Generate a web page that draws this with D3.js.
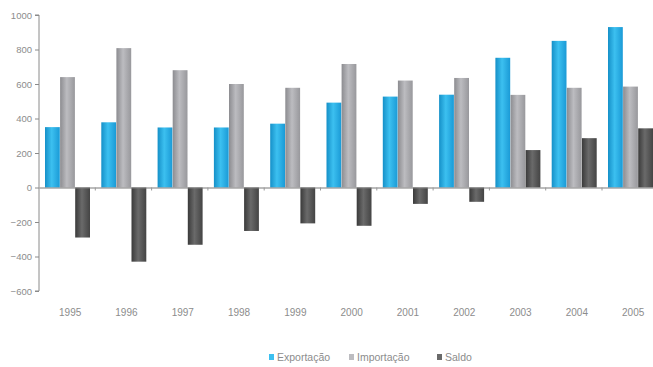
<!DOCTYPE html>
<html>
<head>
<meta charset="utf-8">
<script src="https://cdn.jsdelivr.net/npm/d3@7"></script>
<style>
  html, body { margin: 0; padding: 0; background: #fff; }
  svg { display: block; }
</style>
</head>
<body>
<svg id="chart" width="653" height="367"></svg>
<script>
// Trade balance by year: exports, imports and balance
const years = ["1995","1996","1997","1998","1999","2000","2001","2002","2003","2004","2005"];
const exportacao = [350, 378, 348, 348, 370, 492, 527, 538, 752, 850, 930];
const importacao = [640, 808, 680, 600, 578, 716, 620, 635, 537, 578, 585];
const saldo      = [-290, -430, -332, -252, -208, -222, -95, -83, 217, 286, 343];
const seriesNames = ["Exportação", "Importação", "Saldo"];
const yTicks = [-600, -400, -200, 0, 200, 400, 600, 800, 1000];

const series = [exportacao, importacao, saldo];
const colors = [
  ["#1590c8", "#3cc0f0", "#1a9ad6"],
  ["#8c8c90", "#bcbcc0", "#98989c"],
  ["#3a3a3a", "#6a6a6a", "#444444"]
];
const font = "Liberation Sans, Arial, sans-serif";

const svg = d3.select("#chart");
const left = 39;
const bandW = 56.3;
const x0 = d3.scaleBand().domain(years).range([left, left + bandW * years.length]);
const x1 = d3.scaleBand().domain(seriesNames).range([6, 51]).paddingInner(0.02);
const y = d3.scaleLinear().domain([-600, 1000]).range([291, 15]);

// Horizontal gradients give the bars a rounded look
const defs = svg.append("defs");
colors.forEach((c, i) => {
  const g = defs.append("linearGradient").attr("id", "grad" + i)
    .attr("x1", "0%").attr("x2", "100%").attr("y1", "0%").attr("y2", "0%");
  g.append("stop").attr("offset", "0%").attr("stop-color", c[0]);
  g.append("stop").attr("offset", "45%").attr("stop-color", c[1]);
  g.append("stop").attr("offset", "100%").attr("stop-color", c[2]);
});

// Bars
series.forEach((vals, si) => {
  svg.append("g").selectAll("rect").data(vals).join("rect")
    .attr("x", (d, i) => x0(years[i]) + x1(seriesNames[si]))
    .attr("width", x1.bandwidth())
    .attr("y", d => y(Math.max(0, d)))
    .attr("height", d => Math.abs(y(d) - y(0)))
    .attr("fill", "url(#grad" + si + ")");
});

// Y axis
const yAxis = d3.axisLeft(y).tickValues(yTicks).tickSize(4).tickPadding(3).tickFormat(d3.format("d"));
const gy = svg.append("g").attr("transform", `translate(${left},0)`).call(yAxis);
gy.select(".domain").attr("stroke", "#8a8a8a").attr("d", `M-4,${y(1000)}H0V${y(-600)}H-4`);
gy.selectAll(".tick line").attr("stroke", "#8a8a8a");
gy.selectAll(".tick text").attr("fill", "#8c8c8c").attr("font-family", font).attr("font-size", 9.5);

// Zero baseline with category separators
const gx = svg.append("g").attr("transform", `translate(0,${y(0)})`)
  .call(d3.axisBottom(x0).tickSize(0).tickFormat(""));
gx.select(".domain").attr("stroke", "#7a7a7a").attr("stroke-width", 1.2);
gx.selectAll(".tick").remove();
svg.append("g").selectAll("line").data(years.slice(1)).join("line")
  .attr("x1", d => x0(d)).attr("x2", d => x0(d))
  .attr("y1", y(0)).attr("y2", y(0) + 3)
  .attr("stroke", "#999");

// Year labels
svg.append("g").selectAll("text").data(years).join("text")
  .attr("x", d => x0(d) + x0.bandwidth() / 2 + 3)
  .attr("y", 316)
  .attr("text-anchor", "middle")
  .attr("fill", "#8c8c8c")
  .attr("font-family", font)
  .attr("font-size", 10)
  .text(d => d);

// Legend
const legendX = [269, 349, 437];
const lg = svg.append("g").selectAll("g").data(seriesNames).join("g")
  .attr("transform", (d, i) => `translate(${legendX[i]},361)`);
lg.append("rect").attr("x", 0).attr("y", -7).attr("width", 5).attr("height", 6)
  .attr("fill", (d, i) => colors[i][1]);
lg.append("text").attr("x", 8).attr("y", 0)
  .attr("fill", "#8c8c8c")
  .attr("font-family", font)
  .attr("font-size", 10.5)
  .text(d => d);
</script>
</body>
</html>
